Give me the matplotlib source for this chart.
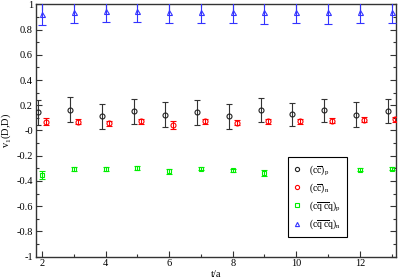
import matplotlib
matplotlib.use("Agg")
import matplotlib.pyplot as plt
import numpy as np
from matplotlib.ticker import MultipleLocator
from matplotlib.lines import Line2D

plt.rcParams['font.family'] = ['Liberation Serif', 'DejaVu Serif']
plt.rcParams['mathtext.fontset'] = 'custom'
plt.rcParams['mathtext.rm'] = 'Liberation Serif'
plt.rcParams['mathtext.it'] = 'Liberation Serif:italic'
plt.rcParams['axes.unicode_minus'] = False

t = np.arange(2, 14)

cc_p = [0.143, 0.164, 0.111, 0.151, 0.124, 0.143, 0.114, 0.159, 0.127, 0.159, 0.124, 0.153]
cc_p_err = [0.10, 0.10, 0.10, 0.10, 0.10, 0.10, 0.10, 0.095, 0.095, 0.09, 0.10, 0.095]
cc_n = [0.071, 0.071, 0.058, 0.074, 0.042, 0.074, 0.063, 0.074, 0.074, 0.079, 0.085, 0.09]
cc_n_err = [0.025, 0.02, 0.02, 0.02, 0.03, 0.02, 0.02, 0.02, 0.02, 0.02, 0.02, 0.02]
cqcq_p = [-0.352, -0.304, -0.307, -0.299, -0.325, -0.302, -0.317, -0.336, -0.31, -0.31, -0.31, -0.304]
cqcq_p_err = [0.03, 0.015, 0.018, 0.018, 0.02, 0.015, 0.012, 0.025, 0.015, 0.015, 0.015, 0.012]
cqcq_n = [0.926, 0.944, 0.95, 0.95, 0.944, 0.944, 0.944, 0.937, 0.944, 0.937, 0.944, 0.944]
cqcq_n_err = [0.086, 0.094, 0.093, 0.093, 0.092, 0.09, 0.089, 0.09, 0.09, 0.09, 0.09, 0.09]

labels = [r'$\mathrm{(c\overline{c})_p}$', r'$\mathrm{(c\overline{c})_n}$',
          r'$\mathrm{(c\overline{q}\;\overline{c}q)_p}$', r'$\mathrm{(c\overline{q}\;\overline{c}q)_n}$']

fig = plt.figure(figsize=(3.99, 2.79), dpi=100)
ax = fig.add_axes([0.0895, 0.0806, 0.9022, 0.9034])

ms = 3.6
styles = [
    dict(x=t - 0.12, y=cc_p, e=cc_p_err, m='o', c='#222222', ec='#333333', ms=ms, cs=2.3),
    dict(x=t + 0.12, y=cc_n, e=cc_n_err, m='o', c='#ff0000', ec='#ff0000', ms=ms, cs=2.3),
    dict(x=t, y=cqcq_p, e=cqcq_p_err, m='s', c='#00ee00', ec='#00ee00', ms=3.2, cs=2.3),
    dict(x=t, y=cqcq_n, e=cqcq_n_err, m='^', c='#3333ff', ec='#3333ff', ms=ms, cs=2.8),
]
handles = []
for s, lab in zip(styles, labels):
    ax.errorbar(s['x'], s['y'], yerr=s['e'], fmt=s['m'], mfc='none', mec=s['c'], ecolor=s['ec'],
                ms=s['ms'], mew=0.8, elinewidth=0.8, capsize=s['cs'], capthick=0.8, zorder=3)
    handles.append(Line2D([], [], linestyle='none', marker=s['m'], mfc='none', mec=s['c'],
                          ms=3.0, mew=0.8, label=lab))

ax.set_xlim(1.8, 13.13)
ax.set_ylim(-1, 1)
ax.xaxis.set_major_locator(MultipleLocator(2))
ax.xaxis.set_minor_locator(MultipleLocator(1))
yt = np.round(np.arange(-1, 1.01, 0.2), 1)
ax.set_yticks(yt)
ax.set_yticklabels(['%g' % v for v in yt])
ax.yaxis.set_minor_locator(MultipleLocator(0.1))

ax.tick_params(which='both', direction='in', top=True, right=True, labelsize=7.5, colors='#333333',
               labelcolor='black', width=0.8)
ax.tick_params(which='major', length=4, pad=2)
ax.tick_params(which='minor', length=2)
for sp in ax.spines.values():
    sp.set_linewidth(1.0)
    sp.set_color('#333333')

ax.set_xlabel('t/a', fontsize=7.5, labelpad=1)
ax.set_ylabel(r'v$_1$(D,$\overline{\mathrm{D}}$)', fontsize=7.5, labelpad=2)

leg = ax.legend(handles=handles, loc='lower left', bbox_to_anchor=(0.70, 0.077), borderaxespad=0,
                fontsize=7, frameon=True, fancybox=False, edgecolor='black', framealpha=1,
                handlelength=0.8, handletextpad=0.8, labelspacing=0.45, borderpad=0.6)
leg.get_frame().set_linewidth(0.8)
leg.set_zorder(5)

fig.savefig('out.png', dpi=100)
